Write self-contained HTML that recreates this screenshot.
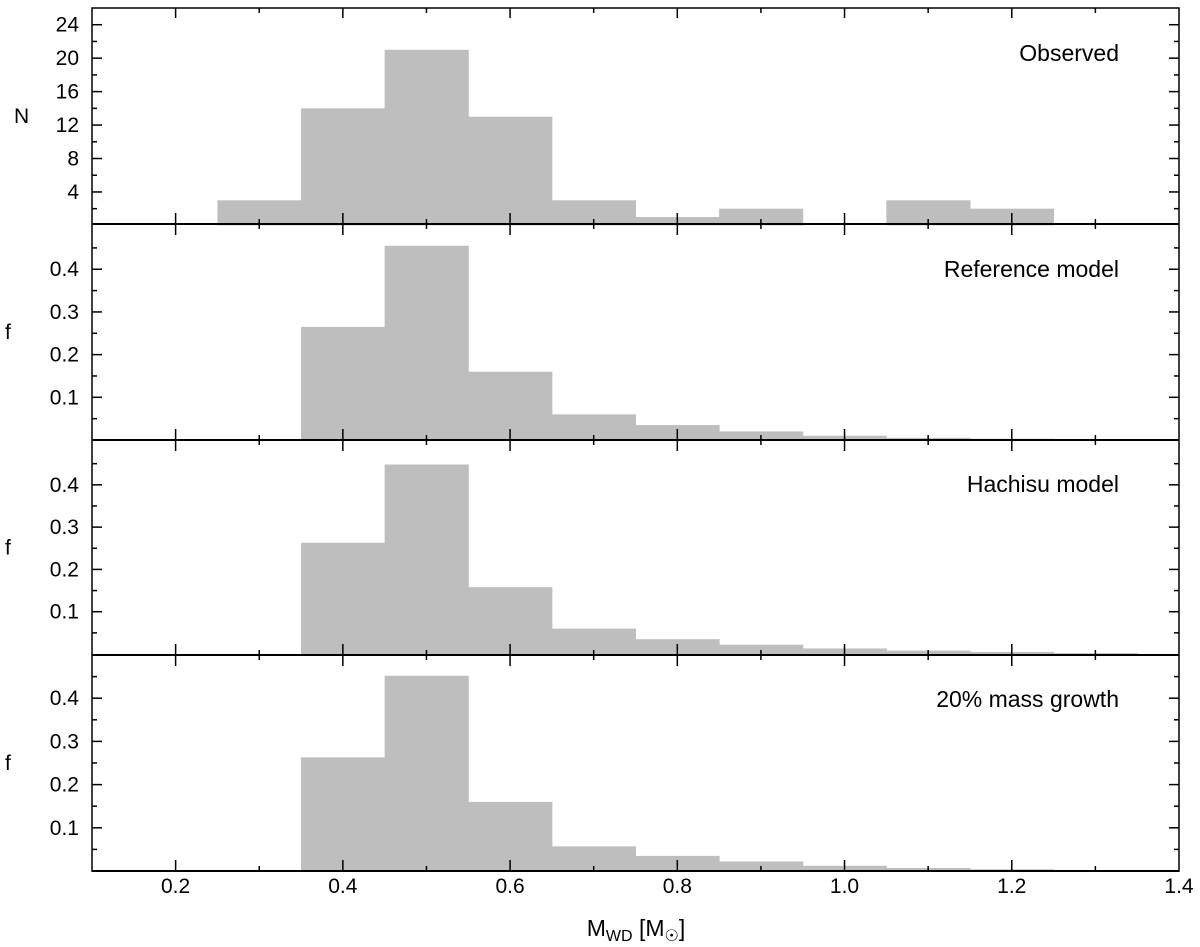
<!DOCTYPE html>
<html><head><meta charset="utf-8"><style>
html,body{margin:0;padding:0;background:#fff}
svg{display:block;font-family:"Liberation Sans","DejaVu Sans",sans-serif}
</style></head><body>
<svg id="chart" width="1200" height="947" viewBox="0 0 1200 947" xmlns="http://www.w3.org/2000/svg"></svg>
<script>
const binStarts = [0.15,0.25,0.35,0.45,0.55,0.65,0.75,0.85,0.95,1.05,1.15,1.25];
const observedN = [0,3,14,21,13,3,1,2,0,3,2,0];
const referenceF = [0,0,0.265,0.455,0.16,0.06,0.035,0.02,0.01,0.005,0.003,0.001];
const hachisuF = [0,0,0.263,0.448,0.158,0.06,0.035,0.022,0.013,0.008,0.005,0.002];
const growthF = [0,0,0.263,0.452,0.16,0.057,0.035,0.022,0.012,0.007,0.004,0.002];
const xTicks = ["0.2","0.4","0.6","0.8","1.0","1.2","1.4"];
const nTicks = ["4","8","12","16","20","24"];
const fTicks = ["0.1","0.2","0.3","0.4"];
const binWidth = 0.1;

const svg = document.getElementById('chart');
const NS = 'http://www.w3.org/2000/svg';
const X0 = 92, X1 = 1179;
const xs = v => X0 + (v - 0.1) / 1.3 * (X1 - X0);
function mk(tag, attrs, parent){ const e=document.createElementNS(NS,tag); for(const k in attrs) e.setAttribute(k,attrs[k]); (parent||svg).appendChild(e); return e; }

const panels = [
  {top:8, bottom:224, zero:225.4, max:26, data:observedN, ticks:nTicks, minor:2, label:"N", title:"Observed", name:"observed", ty:61},
  {top:224, bottom:440, zero:440, max:0.506, data:referenceF, ticks:fTicks, minor:0.05, label:"f", title:"Reference model", name:"reference-model", ty:277},
  {top:440, bottom:655, zero:654, max:0.506, data:hachisuF, ticks:fTicks, minor:0.05, label:"f", title:"Hachisu model", name:"hachisu-model", ty:492},
  {top:655, bottom:871, zero:871, max:0.50, data:growthF, ticks:fTicks, minor:0.05, label:"f", title:"20% mass growth", name:"mass-growth-20", ty:707}
];

panels.forEach((p,pi)=>{
  const g = mk('g',{});
  
  
  const ys = v => p.zero - v / p.max * (p.zero - p.top);
  p.data.forEach((v,i)=>{
    if(v<=0) return;
    const x = xs(binStarts[i]), w = xs(binStarts[i]+binWidth)-x;
    const r = mk('rect',{x:x,y:ys(v),width:w+0.5,height:p.zero-ys(v),fill:'#bebebe'},g);
    
    
  });
  p.ticks.forEach(t=>{
    const v=parseFloat(t), y=ys(v);
    mk('line',{x1:X0,x2:X0+10,y1:y,y2:y,stroke:'#000','stroke-width':1.5},g);
    mk('line',{x1:X1,x2:X1-10,y1:y,y2:y,stroke:'#000','stroke-width':1.5},g);
    const tx = mk('text',{x:X0-13,y:y+7,'text-anchor':'end','font-size':21},g);
    tx.textContent=t;
    
    
  });
  for(let v=p.minor; v<p.max; v+=p.minor*2){
    const y=ys(v);
    mk('line',{x1:X0,x2:X0+5,y1:y,y2:y,stroke:'#000','stroke-width':1.5},g);
    mk('line',{x1:X1,x2:X1-5,y1:y,y2:y,stroke:'#000','stroke-width':1.5},g);
  }
  const yl = mk('text',{x:p.label==='N'?14:5,y:(p.top+p.bottom)/2+7,'font-size':21},g);
  yl.textContent=p.label;
  
  
  const tt = mk('text',{x:1119,y:p.ty,'text-anchor':'end','font-size':23},g);
  tt.textContent=p.title;
  
  
  const yb = p.bottom;
  for(let k=0;k<=12;k++){
    const v=0.2+k*0.1, x=xs(v);
    if(x>X1-2) continue;
    const major = k%2===0;
    const L = major?11:5;
    if(pi<3){ mk('line',{x1:x,x2:x,y1:yb-L,y2:yb+L,stroke:'#000','stroke-width':1.5},g); }
    else { mk('line',{x1:x,x2:x,y1:yb-L,y2:yb,stroke:'#000','stroke-width':1.5},g); }
  }
  if(pi===0){ for(let k=0;k<=12;k++){ const x=xs(0.2+k*0.1); if(x>X1-2) continue; mk('line',{x1:x,x2:x,y1:p.top,y2:p.top+(k%2?5:10),stroke:'#000','stroke-width':1.5},g);} }
  mk('line',{x1:X0,x2:X1,y1:yb,y2:yb,stroke:'#000','stroke-width':2},g);
});
const fr = mk('rect',{x:X0,y:8,width:X1-X0,height:863,fill:'none',stroke:'#000','stroke-width':1.5});


xTicks.forEach(t=>{
  const tx = mk('text',{x:xs(parseFloat(t)),y:893,'text-anchor':'middle','font-size':21});
  tx.textContent=t;
  
  
});
const xl = mk('text',{x:636,y:936,'text-anchor':'middle','font-size':23});


xl.innerHTML='M<tspan font-size="16" dy="5">WD</tspan><tspan dy="-5"> [M</tspan><tspan font-size="16" dy="5">☉</tspan><tspan dy="-5">]</tspan>';
</script>
</body></html>
